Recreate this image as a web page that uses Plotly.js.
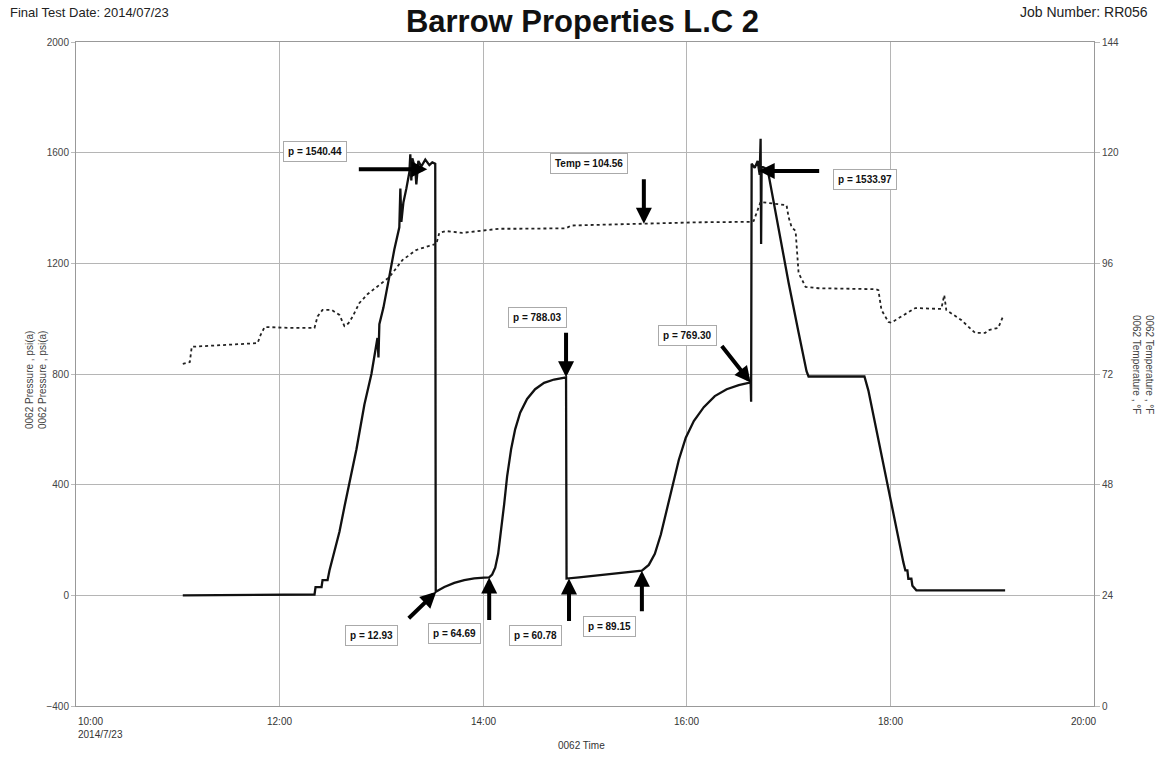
<!DOCTYPE html>
<html><head><meta charset="utf-8">
<script src="https://cdn.plot.ly/plotly-3.0.1.min.js"></script>
<style>html,body{margin:0;padding:0;background:#fff;}#chart{width:1158px;height:757px;}</style>
</head><body><div id="chart"></div>
<script>
// ---- data (time in decimal hours of 2014-07-23) ----
const pressureHours = [11.049,11.804,12.343,12.353,12.412,12.422,12.471,12.490,12.520,12.549,12.588,12.637,12.686,12.755,12.833,12.902,12.961,12.971,12.980,13.020,13.078,13.127,13.176,13.186,13.196,13.216,13.245,13.275,13.284,13.294,13.304,13.333,13.343,13.363,13.392,13.431,13.471,13.500,13.529,13.534,13.618,13.716,13.814,13.912,14.010,14.059,14.088,14.118,14.147,14.176,14.206,14.235,14.275,14.314,14.363,14.431,14.510,14.598,14.696,14.814,14.819,14.941,15.137,15.333,15.559,15.627,15.686,15.745,15.804,15.863,15.922,15.990,16.069,16.167,16.275,16.392,16.510,16.627,16.632,16.637,16.667,16.696,16.716,16.725,16.730,16.735,16.765,16.804,16.902,17.000,17.098,17.176,17.196,17.745,17.784,17.833,17.882,17.931,17.980,18.029,18.078,18.108,18.127,18.147,18.167,18.176,18.206,18.216,18.235,18.255,19.127];
const pressurePsi = [0,2,3,30,30,55,55,90,130,170,230,320,410,528,690,800,930,860,980,1040,1153,1250,1330,1470,1350,1420,1470,1530,1594,1500,1580,1540,1485,1570,1550,1575,1555,1565,1560,12.93,30,45,55,61,64,64.69,75,100,150,230,330,430,530,600,660,710,745,768,780,788.03,60.78,65,72,80,89.15,110,150,220,310,400,490,570,630,680,720,745,760,769.30,700,1560,1545,1570,1520,1650,1270,1550,1545,1520,1320,1130,950,810,791,791,740,650,560,470,380,290,200,150,120,90,90,60,60,35,25,18,18];
const tempHours = [11.049,11.098,11.118,11.137,11.461,11.784,11.814,11.853,12.098,12.343,12.373,12.422,12.510,12.588,12.637,12.676,12.716,12.784,12.863,12.951,13.078,13.206,13.343,13.471,13.539,13.569,13.637,13.794,13.990,14.157,14.353,14.814,14.863,15.137,15.578,16.118,16.627,16.657,16.725,16.980,17.000,17.029,17.069,17.098,17.167,17.294,17.853,17.882,17.912,17.980,18.010,18.078,18.245,18.500,18.529,18.549,18.696,18.833,18.931,18.961,19.059,19.108];
const tempF = [74.2,74.4,74.6,77.9,78.3,78.7,80.5,82.2,82.0,82.0,84.5,85.9,85.9,84.8,82.4,83.0,84.4,87.4,89.3,90.9,93.0,96.7,98.9,99.8,100.2,102.6,103.0,102.6,103.0,103.5,103.5,103.6,104.2,104.4,104.6,104.9,105.0,105.2,109.3,108.6,106.0,103.9,103.0,93.9,90.9,90.6,90.4,90.2,85.9,83.3,83.1,84.1,86.3,86.1,89.1,85.9,83.7,80.9,80.9,81.5,82.0,84.6];
const xTickHours = [10,12,14,16,18,20];
const xTickLabels = ['10:00<br>2014/7/23','12:00','14:00','16:00','18:00','20:00'];
const calloutText = ['p = 1540.44','Temp = 104.56','p = 788.03','p = 769.30','p = 1533.97','p = 12.93','p = 64.69','p = 60.78','p = 89.15'];
const calloutHours = [13.451,15.578,14.814,16.627,16.706,13.539,14.059,14.843,15.559];
const calloutValues = [1540.44,104.56,788.03,769.30,1533.97,12.93,64.69,60.78,89.15];
const calloutAxis = ['y','y2','y','y','y','y','y','y','y'];

// ---- helpers ----
function hToDate(h){
  const tot = Math.round(h*3600);
  const hh = Math.floor(tot/3600), mm = Math.floor((tot%3600)/60), ss = tot%60;
  const p = n => String(n).padStart(2,'0');
  return '2014-07-23 ' + p(hh)+':'+p(mm)+':'+p(ss);
}

// layout-only offsets (pixels) for callout arrows and boxes
const arrowOff = [[-70,0],[0,-46],[0,-46],[-30,-38],[62,0],[-29,28],[0,44],[0,44],[0,42]];
const boxOff = [[-112,-18],[-55,-60],[-29,-60],[-63,-47],[106,9],[-65,44],[-35,56],[-34,57],[-32,56]];

const FONT = 'Liberation Sans, Arial, sans-serif';

const traces = [
  {x: pressureHours.map(hToDate), y: pressurePsi, type:'scatter', mode:'lines', name:'0062 Pressure',
   line:{color:'#111', width:2.3}, yaxis:'y'},
  {x: tempHours.map(hToDate), y: tempF, type:'scatter', mode:'lines', name:'0062 Temperature',
   line:{color:'#222', width:1.8, dash:'dot'}, yaxis:'y2'}
];

const annotations = [];
// x tick labels
xTickHours.forEach((h,i)=>{
  annotations.push({x: hToDate(h), y: 0, xref:'x', yref:'paper', text: xTickLabels[i], showarrow:false,
    xanchor: i===0 ? 'left' : (i===xTickHours.length-1 ? 'right' : 'center'),
    xshift: i===xTickHours.length-1 ? 4 : 0,
    yanchor:'top', yshift:-8, align:'left', font:{family:FONT, size:10, color:'#333'}});
});
// callouts
calloutText.forEach((t,i)=>{
  const x = hToDate(calloutHours[i]), y = calloutValues[i], yref = calloutAxis[i];
  annotations.push({x:x, y:y, xref:'x', yref:yref, text:'', showarrow:true,
    ax: arrowOff[i][0], ay: arrowOff[i][1], arrowhead:2, arrowsize:0.8, arrowwidth:4, arrowcolor:'#000', standoff:0});
  annotations.push({x:x, y:y, xref:'x', yref:yref, text:'<b>'+t+'</b>', showarrow:false,
    xshift: boxOff[i][0], yshift: -boxOff[i][1], bgcolor:'#fff', bordercolor:'#aaa', borderwidth:1, borderpad:4,
    font:{family:FONT, size:10, color:'#111'}});
});
// header texts
annotations.push({xref:'paper', yref:'paper', x:-0.0668, y:1.045, xanchor:'left', yanchor:'middle', showarrow:false,
  text:'Final Test Date: 2014/07/23', font:{family:FONT, size:13, color:'#222'}});
annotations.push({xref:'paper', yref:'paper', x:0.925, y:1.045, xanchor:'left', yanchor:'middle', showarrow:false,
  text:'Job Number: RR056', font:{family:FONT, size:14, color:'#222'}});
// axis titles
annotations.push({xref:'paper', yref:'paper', x:-0.053, y:0.491, textangle:-90, showarrow:false,
  text:'0062 Pressure , psi(a)<br>0062 Pressure , psi(a)', font:{family:FONT, size:10, color:'#444'}});
annotations.push({xref:'paper', yref:'paper', x:1.062, y:0.515, textangle:90, showarrow:false,
  text:'0062 Temperature , °F<br>0062 Temperature , °F', font:{family:FONT, size:10, color:'#444'}});
annotations.push({xref:'paper', yref:'paper', x:0.497, y:-0.060, yanchor:'middle', showarrow:false,
  text:'0062 Time', font:{family:FONT, size:10, color:'#333'}});

const layout = {
  width:1158, height:757,
  margin:{l:76, r:64, t:42, b:51},
  paper_bgcolor:'#fff', plot_bgcolor:'#fff',
  showlegend:false,
  font:{family:FONT, size:10, color:'#333'},
  title:{text:'<b>Barrow Properties L.C 2</b>', x:0.503, xanchor:'center', y:0.972, yanchor:'middle',
         font:{family:FONT, size:31, color:'#111'}},
  xaxis:{type:'date', range:[hToDate(10), hToDate(20)], tickvals: xTickHours.map(hToDate), showticklabels:false,
         showgrid:true, gridcolor:'#b5b5b5', gridwidth:1, showline:true, linecolor:'#999', mirror:true,
         zeroline:false, ticks:''},
  yaxis:{range:[-400,2000], tickvals:[-400,0,400,800,1200,1600,2000], showgrid:true, gridcolor:'#b5b5b5',
         showline:true, linecolor:'#999', mirror:true, zeroline:false, ticks:'outside', ticklen:4, tickcolor:'#bbb',
         tickfont:{family:FONT, size:10, color:'#444'}},
  yaxis2:{range:[0,144], tickvals:[0,24,48,72,96,120,144], overlaying:'y', side:'right', showgrid:false,
          zeroline:false, showline:false, ticks:'outside', ticklen:5, tickcolor:'#bbb',
          tickfont:{family:FONT, size:10, color:'#444'}},
  annotations: annotations
};

Plotly.newPlot('chart', traces, layout, {displayModeBar:false, staticPlot:true});
</script>
</body></html>
